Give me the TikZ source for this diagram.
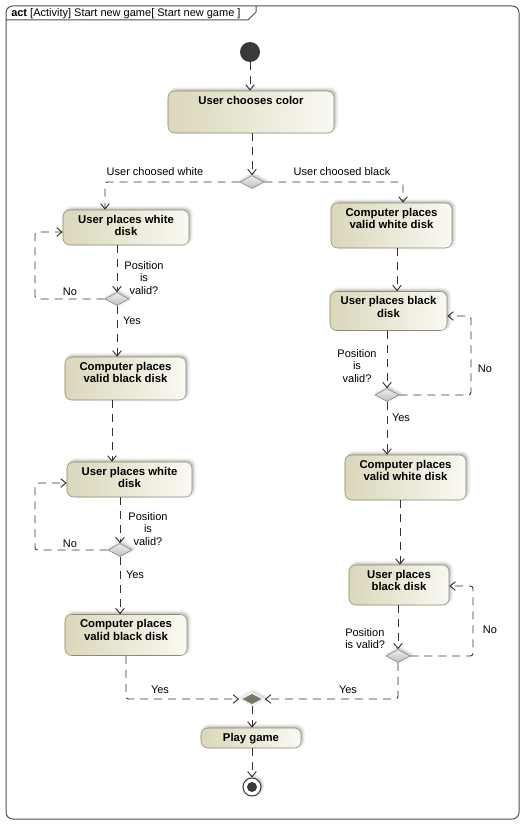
\documentclass[tikz,border=0pt]{standalone}
\usepackage{fontspec}
\setmainfont{Liberation Sans}
\usepackage{tikz}
\usepackage{color}
\usetikzlibrary{shapes}
\usetikzlibrary{shadows.blur}
\usetikzlibrary{arrows.meta}

\definecolor{actleft}{RGB}{218,215,186}
\definecolor{actright}{RGB}{250,249,242}
\definecolor{actborder}{RGB}{140,138,112}
\definecolor{flowcol}{RGB}{50,50,50}
\definecolor{dectop}{RGB}{238,238,238}
\definecolor{decbot}{RGB}{190,190,190}
\definecolor{decborder}{RGB}{130,130,130}
\definecolor{mergecol}{RGB}{120,120,104}
\definecolor{framecol}{RGB}{80,80,80}
\definecolor{blob}{RGB}{58,58,58}

\tikzset{
  action/.style={draw=actborder, rounded corners=5pt, left color=actleft, right color=actright,
    blur shadow={shadow xshift=1.3pt, shadow yshift=1.3pt, shadow blur steps=4, shadow opacity=30},
    font=\fontsize{8.5}{9.4}\selectfont\bfseries, align=center, inner ysep=0pt, inner xsep=2pt, text height=9.75pt},
  twoline/.style={text height=19.15pt},
  decshape/.style={diamond, minimum width=18pt, minimum height=9.75pt, inner sep=0pt,
    blur shadow={shadow xshift=1pt, shadow yshift=1pt, shadow blur steps=3, shadow opacity=30}},
  decision/.style={decshape, draw=decborder, top color=dectop, bottom color=decbot},
  flow/.style={draw=flowcol, line width=0.7pt, dash pattern=on 6pt off 4.5pt, rounded corners=2pt, -{Straight Barb[length=4pt,width=6.5pt]}},
  guard/.style={font=\fontsize{8.25}{9.4}\selectfont, inner sep=0.75pt, align=center},
}

\begin{document}
\begin{tikzpicture}[x=0.75pt,y=0.75pt,yscale=-1,xscale=1]
\useasboundingbox (0,0) rectangle (526,824);
%Frame
\draw [framecol, line width=0.75pt, rounded corners=5pt] (6,6) rectangle (519,819) ;
\draw [framecol, line width=0.75pt] (6,20) -- (248,20) -- (256,12) -- (256,6) ;
% Text Node
\draw (10,13.5) node [anchor=west] [guard] (title) {\textbf{act} [Activity] Start new game[ Start new game ]};

%Initial node
\draw (250,52) node [circle, fill=blob, minimum size=15pt, inner sep=0pt] (start) {};
%Actions
\draw (251,112) node [action, minimum width=124.5pt, text depth=21.75pt] (ucc) {User chooses color};
\draw (126,227.5) node [action, twoline, minimum width=94.5pt, text depth=7.1pt] (L1) {User places white\\disk};
\draw (125.5,378.5) node [action, twoline, minimum width=90.75pt, text depth=13.1pt] (L2) {Computer places\\valid black disk};
\draw (129.5,479.5) node [action, twoline, minimum width=93.75pt, text depth=7.1pt] (L3) {User places white\\disk};
\draw (126,635) node [action, twoline, minimum width=91.5pt, text depth=11.6pt] (L4) {Computer places\\valid black disk};
\draw (391.5,225.5) node [action, twoline, minimum width=90.75pt, text depth=14.6pt] (R1) {Computer places\\valid white disk};
\draw (388.5,311) node [action, twoline, minimum width=87.75pt, text depth=10.1pt] (R2) {User places black\\disk};
\draw (405.5,477.5) node [action, twoline, minimum width=90.75pt, text depth=14.6pt] (R3) {Computer places\\valid white disk};
\draw (399,585) node [action, twoline, minimum width=75pt, text depth=10.85pt] (R4) {User places\\black disk};
\draw (251,738) node [action, minimum width=75pt, text depth=5.25pt] (play) {Play game};
%Decisions
\draw (252,182) node [decision] (d1) {};
\draw (117,299) node [decision] (dL1) {};
\draw (120,550) node [decision] (dL3) {};
\draw (387,395) node [decision] (dR2) {};
\draw (398,656) node [decision] (dR4) {};
\draw (252,699) node [decshape, fill=mergecol, draw=dectop, line width=1.3pt] (merge) {};
%Final node
\draw (252,787) node [circle, draw=blob, fill=white, line width=0.75pt, minimum size=13.5pt, inner sep=0pt,
  blur shadow={shadow xshift=1pt, shadow yshift=1pt, shadow blur steps=3, shadow opacity=30},
  path picture={\fill [blob] (path picture bounding box.center) circle (3.75pt);}] (final) {};

%Flows
\draw [flow] (start) -- (start |- ucc.north) ;
\draw [flow] (d1 |- ucc.south) -- (d1.north) ;
\draw [flow] (d1.west) -| (105,0 |- L1.north) ;
\draw [flow] (d1.east) -| (403,0 |- R1.north) ;
\draw [flow] (dL1 |- L1.south) -- (dL1.north) ;
\draw [flow] (dL1.west) -| (35,232) -- (L1.west |- 0,232) ;
\draw [flow] (dL1.south) -- (dL1.south |- L2.north) ;
\draw [flow] (112,0 |- L2.south) -- (112,0 |- L3.north) ;
\draw [flow] (dL3 |- L3.south) -- (dL3.north) ;
\draw [flow] (dL3.west) -| (35,483) -- (L3.west |- 0,483) ;
\draw [flow] (dL3.south) -- (dL3.south |- L4.north) ;
\draw [flow] (126,0 |- L4.south) |- (merge.west) ;
\draw [flow] (397,0 |- R1.south) -- (397,0 |- R2.north) ;
\draw [flow] (dR2 |- R2.south) -- (dR2.north) ;
\draw [flow] (dR2.east) -| (471,316) -- (R2.east |- 0,316) ;
\draw [flow] (dR2.south) -- (dR2.south |- R3.north) ;
\draw [flow] (400,0 |- R3.south) -- (400,0 |- R4.north) ;
\draw [flow] (dR4 |- R4.south) -- (dR4.north) ;
\draw [flow] (dR4.east) -| (473,586) -- (R4.east |- 0,586) ;
\draw [flow] (dR4.south) |- (merge.east) ;
\draw [flow] (merge.south) -- (merge.south |- play.north) ;
\draw [flow] (final |- play.south) -- (final.north) ;

% Text Node
\draw (155,172) node [guard] (gwhite) {User choosed white};
% Text Node
\draw (342,172) node [guard] (gblack) {User choosed black};
% Text Node
\draw (144,278) node [guard] (gpos1) {Position\\is\\valid?};
% Text Node
\draw (70,292) node [guard] (gno1) {No};
% Text Node
\draw (132,321) node [guard] (gyes1) {Yes};
% Text Node
\draw (148,529) node [guard] (gpos2) {Position\\is\\valid?};
% Text Node
\draw (70,544) node [guard] (gno2) {No};
% Text Node
\draw (135,575) node [guard] (gyes2) {Yes};
% Text Node
\draw (160,690) node [guard] (gyes3) {Yes};
% Text Node
\draw (357,366) node [guard] (gpos3) {Position\\is\\valid?};
% Text Node
\draw (485,369) node [guard] (gno3) {No};
% Text Node
\draw (401,418) node [guard] (gyes4) {Yes};
% Text Node
\draw (344,638.5) node [anchor=west] [guard, align=left] (gpos4) {Position\\is valid?};
% Text Node
\draw (490,630) node [guard] (gno4) {No};
% Text Node
\draw (348,690) node [guard] (gyes5) {Yes};
\end{tikzpicture}
\end{document}
